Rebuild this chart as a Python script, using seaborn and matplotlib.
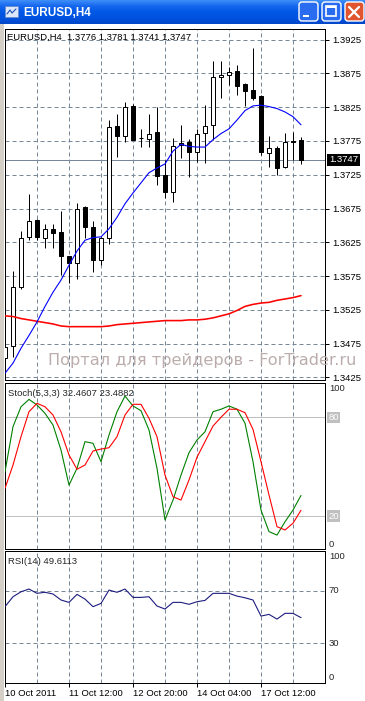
import matplotlib
matplotlib.use("Agg")
import matplotlib.pyplot as plt
import seaborn as sns
import numpy as np
import pandas as pd
from matplotlib.patches import Rectangle, FancyBboxPatch
from matplotlib.colors import LinearSegmentedColormap

# --- data (38 bars, 10-18 Oct 2011) ---
bars = list(range(38))
opens = [1.3453, 1.3471, 1.3558, 1.3633, 1.3658, 1.3632, 1.3644, 1.3640, 1.3604, 1.3594,
         1.3677, 1.3647, 1.3598, 1.3632, 1.3797, 1.3783, 1.3827, 1.3779, 1.3778, 1.3788,
         1.3725, 1.3700, 1.3769, 1.3774, 1.3758, 1.3787, 1.3798, 1.3870, 1.3873, 1.3879,
         1.3860, 1.3851, 1.3842, 1.3757, 1.3764, 1.3736, 1.3775, 1.3776]
highs = [1.3485, 1.3583, 1.3642, 1.3697, 1.3659, 1.3652, 1.3652, 1.3672, 1.3605, 1.3683,
         1.3679, 1.3657, 1.3633, 1.3806, 1.3815, 1.3833, 1.3830, 1.3793, 1.3815, 1.3826,
         1.3747, 1.3779, 1.3799, 1.3778, 1.3793, 1.3828, 1.3894, 1.3894, 1.3884, 1.3888,
         1.3861, 1.3913, 1.3843, 1.3783, 1.3768, 1.3787, 1.3789, 1.3781]
lows = [1.3435, 1.3455, 1.3556, 1.3628, 1.3628, 1.3616, 1.3616, 1.3576, 1.3564, 1.3570,
        1.3631, 1.3581, 1.3592, 1.3622, 1.3752, 1.3773, 1.3777, 1.3766, 1.3766, 1.3710,
        1.3690, 1.3684, 1.3750, 1.3722, 1.3744, 1.3743, 1.3777, 1.3839, 1.3858, 1.3843,
        1.3827, 1.3835, 1.3754, 1.3737, 1.3724, 1.3735, 1.3747, 1.3741]
closes = [1.3470, 1.3558, 1.3632, 1.3656, 1.3633, 1.3644, 1.3638, 1.3604, 1.3595, 1.3675,
          1.3648, 1.3598, 1.3632, 1.3796, 1.3783, 1.3825, 1.3777, 1.3779, 1.3786, 1.3723,
          1.3700, 1.3768, 1.3772, 1.3758, 1.3786, 1.3797, 1.3870, 1.3873, 1.3877, 1.3857,
          1.3849, 1.3839, 1.3758, 1.3764, 1.3735, 1.3773, 1.3773, 1.3747]

ma_fast = [1.3431, 1.3446, 1.3468, 1.3487, 1.3507, 1.3530, 1.3551, 1.3569, 1.3591, 1.3612,
           1.3628, 1.3632, 1.3633, 1.3645, 1.3662, 1.3682, 1.3698, 1.3713, 1.3728, 1.3735,
           1.3741, 1.3760, 1.3770, 1.3767, 1.3766, 1.3766, 1.3777, 1.3786, 1.3793, 1.3806,
           1.3820, 1.3827, 1.3828, 1.3826, 1.3823, 1.3818, 1.3811, 1.3799]
ma_slow = [1.3516, 1.3515, 1.3512, 1.3510, 1.3508, 1.3506, 1.3504, 1.3501, 1.3500, 1.3500,
           1.3500, 1.3500, 1.3500, 1.3501, 1.3503, 1.3504, 1.3505, 1.3506, 1.3507, 1.3508,
           1.3509, 1.3509, 1.3509, 1.3510, 1.3510, 1.3511, 1.3513, 1.3516, 1.3519, 1.3524,
           1.3530, 1.3533, 1.3535, 1.3536, 1.3539, 1.3541, 1.3543, 1.3546]

stoch_k = [46.9, 74.3, 86.4, 90.9, 87.5, 82.4, 75.3, 60.1, 38.8, 49.0,
           65.2, 64.2, 53.0, 69.2, 83.4, 92.9, 86.9, 84.0, 72.3, 49.0,
           17.6, 29.7, 44.9, 58.5, 66.2, 71.2, 83.4, 84.9, 86.9, 84.9,
           76.4, 53.0, 23.6, 10.5, 8.4, 16.5, 23.6, 32.5]
stoch_d = [36.8, 51.0, 68.2, 83.4, 88.5, 86.4, 81.4, 71.2, 57.1, 48.4,
           51.0, 59.5, 60.7, 61.5, 68.2, 81.4, 87.9, 87.9, 79.4, 68.2,
           44.9, 31.7, 29.7, 41.9, 55.7, 65.2, 74.7, 80.0, 84.9, 84.9,
           82.8, 72.7, 53.0, 32.8, 13.5, 11.5, 15.6, 23.5]
rsi = [58.0, 65.6, 69.4, 71.5, 68.2, 69.0, 67.7, 63.1, 61.3, 67.4,
       63.8, 58.0, 60.5, 70.7, 69.0, 71.5, 65.1, 65.1, 65.6, 58.5,
       56.2, 61.3, 61.3, 59.8, 61.8, 62.8, 68.2, 68.2, 68.2, 66.1,
       64.8, 63.1, 50.8, 52.1, 48.5, 52.9, 52.9, 49.6]

price_ticks = [1.3425, 1.3475, 1.3525, 1.3575, 1.3625, 1.3675, 1.3725, 1.3775, 1.3825, 1.3875, 1.3925]
grid_bars = [4, 8, 12, 16, 20, 24, 28, 32, 36]
date_bars = [0, 8, 16, 24, 32]
date_labels = ['10 Oct 2011', '11 Oct 12:00', '12 Oct 20:00', '14 Oct 04:00', '17 Oct 12:00']
last_price = 1.3747

W, H = 365, 701
GRID = '#778899'
FS = 6.8

sns.set_style("white")
plt.rcParams['font.family'] = ['Liberation Sans', 'DejaVu Sans']
plt.rcParams['axes.linewidth'] = 0.72


def px_axes(fig, left, top, right, bottom):
    return fig.add_axes([left / W, 1 - bottom / H, (right - left) / W, (bottom - top) / H])


def style_panel(ax, ylim):
    ax.set_xlim(-0.0625, 40)
    ax.set_ylim(*ylim)
    ax.set_xlabel('')
    ax.set_ylabel('')
    ax.set_xticks([])
    ax.set_yticks([])
    for s in ax.spines.values():
        s.set_color('black')
        s.set_linewidth(0.72)
    for b in grid_bars:
        ax.axvline(b, color=GRID, lw=0.72, ls=(0, (4, 3)), zorder=0)


fig = plt.figure(figsize=(W / 100, H / 100), dpi=100, facecolor='white')

# window title bar
ax_t = fig.add_axes([0, 1 - 24 / H, 1, 24 / H])
cmap = LinearSegmentedColormap.from_list('xp', ['#3d8ef8', '#1566ee', '#0058e6', '#0052e0', '#0046c8'])
ax_t.imshow(np.linspace(0, 1, 48).reshape(-1, 1), aspect='auto', cmap=cmap, extent=[0, W, 24, 0])
ax_t.set_xlim(0, W)
ax_t.set_ylim(24, 0)
ax_t.axis('off')
ax_t.add_patch(Rectangle((5, 6), 13, 11, fc='#dbe8fb', ec='#6a8fd0', lw=0.7))
ax_t.plot([7, 10, 12, 16], [14, 10, 13, 9], color='#2050b0', lw=0.8)
ax_t.text(23, 12.5, 'EURUSD,H4', color='white', fontsize=8.5, fontweight='bold', va='center', ha='left')
for x0, fc in [(298, '#2a6cf0'), (321, '#2a6cf0'), (344, '#e0552f')]:
    ax_t.add_patch(FancyBboxPatch((x0 + 1, 2), 19, 19, boxstyle='round,pad=0,rounding_size=3',
                                  fc=fc, ec='white', lw=1.0))
ax_t.add_patch(Rectangle((303, 15), 6, 2, fc='white', ec='none'))
ax_t.add_patch(Rectangle((326, 6), 10, 10, fc='none', ec='white', lw=1.2))
ax_t.add_patch(Rectangle((326, 6), 10, 2, fc='white', ec='none'))
ax_t.plot([349, 359], [7, 17], color='white', lw=1.6)
ax_t.plot([349, 359], [17, 7], color='white', lw=1.6)

# left window border
fig.patches.append(Rectangle((0, 0), 4 / W, (H - 24) / H, transform=fig.transFigure,
                             fc='#d4d0c8', ec='none'))

# ---- main price panel ----
ax = px_axes(fig, 4.5, 28.7, 325, 380)
for p in price_ticks:
    ax.axhline(p, color=GRID, lw=0.72, ls=(0, (4, 3)), zorder=0)
ax.axhline(last_price, color=GRID, lw=0.72, zorder=1)

df = pd.DataFrame({'bar': bars, 'open': opens, 'high': highs, 'low': lows, 'close': closes})
up = df['close'] >= df['open']
ax.vlines(df['bar'], df['low'], df['high'], color='black', lw=0.72, zorder=3)
ax.bar(df['bar'], (df['close'] - df['open']).abs(), bottom=df[['open', 'close']].min(axis=1),
       width=0.55, color=np.where(up, 'white', 'black'), edgecolor='black', linewidth=0.72, zorder=4)

sns.lineplot(x=bars, y=ma_slow, ax=ax, color='#ff0000', linewidth=1.15, zorder=5)
sns.lineplot(x=bars, y=ma_fast, ax=ax, color='#0000ff', linewidth=0.8, zorder=5)
style_panel(ax, (1.3421, 1.39413))

ax.yaxis.tick_right()
ax.set_yticks(price_ticks)
ax.set_yticklabels(['%.4f' % p for p in price_ticks])
ax.tick_params(axis='y', direction='out', length=3, width=0.72, labelsize=FS, pad=2,
               right=True, left=False, labelright=True, labelleft=False, colors='black')
ax.text(1.0125, last_price, '%.4f' % last_price, transform=ax.get_yaxis_transform(),
        ha='left', va='center', fontsize=FS, color='white', zorder=10, clip_on=False,
        bbox=dict(boxstyle='square,pad=0.2', fc='black', ec='none'))
ax.text(0.008, 0.976, 'EURUSD,H4  1.3776 1.3781 1.3741 1.3747', transform=ax.transAxes,
        ha='left', va='center', fontsize=FS, color='black')
ax.text(0.136, 0.0555, 'Портал для трейдеров - ForTrader.ru', transform=ax.transAxes,
        ha='left', va='center', fontsize=11.6, color='#bcadad', clip_on=False, zorder=6,
        family=['DejaVu Sans'])

# ---- stochastic panel ----
ax_s = px_axes(fig, 4.5, 383, 325, 549)
ax_s.axhline(80, color='#c0c0c0', lw=0.72, zorder=1)
ax_s.axhline(20, color='#c0c0c0', lw=0.72, zorder=1)
sns.lineplot(x=bars, y=stoch_k, ax=ax_s, color='#008000', linewidth=0.8, zorder=3)
sns.lineplot(x=bars, y=stoch_d, ax=ax_s, color='#ff0000', linewidth=0.8, zorder=4)
style_panel(ax_s, (-0.06, 100.85))
tr = ax_s.get_yaxis_transform()
ax_s.text(1.012, 100, '100', transform=tr, ha='left', va='top', fontsize=FS)
ax_s.text(1.012, 0, '0', transform=tr, ha='left', va='bottom', fontsize=FS)
for lv in (80, 20):
    ax_s.text(1.01, lv, str(lv), transform=tr, ha='left', va='center', fontsize=FS, color='white',
              bbox=dict(boxstyle='square,pad=0.12', fc='#c0c0c0', ec='none'))
ax_s.text(0.011, 0.934, 'Stoch(5,3,3) 32.4607 23.4882', transform=ax_s.transAxes,
          ha='left', va='center', fontsize=FS)

# ---- RSI panel ----
ax_r = px_axes(fig, 4.5, 551, 325, 683)
for lv in (70, 30):
    ax_r.axhline(lv, color=GRID, lw=0.72, ls=(0, (4, 3)), zorder=0)
sns.lineplot(x=bars, y=rsi, ax=ax_r, color='#1c1c80', linewidth=0.8, zorder=3)
style_panel(ax_r, (-0.4, 100.6))
tr = ax_r.get_yaxis_transform()
ax_r.text(1.012, 100, '100', transform=tr, ha='left', va='top', fontsize=FS)
ax_r.text(1.012, 70, '70', transform=tr, ha='left', va='center', fontsize=FS)
ax_r.text(1.012, 30, '30', transform=tr, ha='left', va='center', fontsize=FS)
ax_r.text(1.012, 0, '0', transform=tr, ha='left', va='bottom', fontsize=FS)
ax_r.text(0.011, 0.920, 'RSI(14) 49.6113', transform=ax_r.transAxes,
          ha='left', va='center', fontsize=FS)
ax_r.set_xticks(date_bars)
ax_r.set_xticklabels(date_labels)
ax_r.tick_params(axis='x', direction='out', length=3, width=0.72, labelsize=FS, pad=1,
                 bottom=True, colors='black')
for lab in ax_r.get_xticklabels():
    lab.set_ha('left')

fig.savefig('out.png', dpi=100, facecolor='white')
